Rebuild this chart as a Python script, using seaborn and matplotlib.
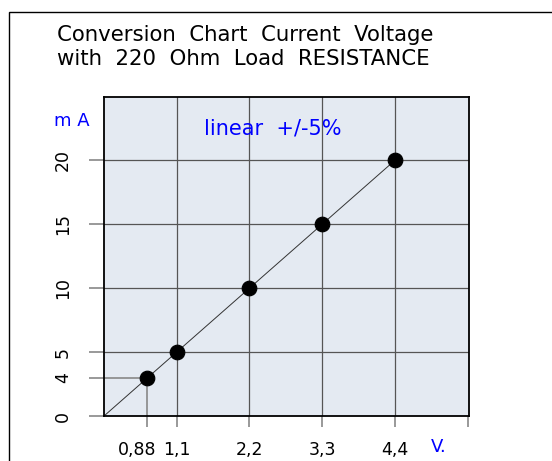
import matplotlib
matplotlib.use("Agg")
import matplotlib.pyplot as plt
import matplotlib.transforms as mtransforms
import seaborn as sns
import pandas as pd
import numpy as np
from matplotlib.patches import Rectangle

volts = [0.88, 1.1, 2.2, 3.3, 4.4]
milliamps = [4, 5, 10, 15, 20]
line_volts = [0, 4.4]
line_ma = [0, 20]
x_ticks = [0.88, 1.1, 2.2, 3.3, 4.4, 5.5]
x_labels = ["0,88", "1,1", "2,2", "3,3", "4,4", ""]
y_ticks = [0, 4, 5, 10, 15, 20]
y_labels = ["0", "4", "5", "10", "15", "20"]
full_vgrid = [1.1, 2.2, 3.3, 4.4]
full_hgrid = [5, 10, 15, 20]

# schematic (non-linear) scale near the origin, as in the original drawing
x_src = np.array([-10, 0, 0.88, 1.1, 100.0])
x_dst = np.array([-10, 0, 0.65, 1.1, 100.0])
y_src = np.array([-10, 0, 4, 5, 100.0])
y_dst = np.array([-10, 0, 2.97, 5, 100.0])

def fx(v):
    return np.interp(v, x_src, x_dst)
def ix(v):
    return np.interp(v, x_dst, x_src)
def fy(v):
    return np.interp(v, y_src, y_dst)
def iy(v):
    return np.interp(v, y_dst, y_src)

sns.set_theme(style="white")
plt.rcParams['font.family'] = ['DejaVu Sans']
plt.rcParams['text.color'] = 'black'

fig = plt.figure(figsize=(5.52, 4.61), dpi=100)
ax = fig.add_axes([104/552, 1-416/461, (469-104)/552, (416-97)/461])
ax.set_xscale('function', functions=(fx, ix))
ax.set_yscale('function', functions=(fy, iy))
ax.set_facecolor("#e4eaf2")

# figure frame
fig.patches.append(Rectangle((9/552, -0.1), 1.2, (461-12)/461 + 0.1, transform=fig.transFigure,
                             fill=False, edgecolor="black", linewidth=1.0, clip_on=False))

for v in full_vgrid:
    ax.axvline(v, color="#555555", linewidth=0.9, zorder=1)
for h in full_hgrid:
    ax.axhline(h, color="#555555", linewidth=0.9, zorder=1)
ax.plot([volts[0], volts[0]], [0, milliamps[0]], color="#888888", linewidth=1.2, zorder=1)
ax.plot([0, volts[0]], [milliamps[0], milliamps[0]], color="#888888", linewidth=1.2, zorder=1)

df_line = pd.DataFrame({"V": line_volts, "mA": line_ma})
sns.lineplot(data=df_line, x="V", y="mA", ax=ax, color="#333333", linewidth=0.7, zorder=2)
df = pd.DataFrame({"V": volts, "mA": milliamps})
sns.scatterplot(data=df, x="V", y="mA", ax=ax, color="black", s=110, edgecolor="black", zorder=3)

ax.set_xlim(0, 5.52)
ax.set_ylim(0, 24.95)
ax.set_xticks(x_ticks)
ax.set_xticklabels(x_labels, fontsize=12.5)
ax.set_yticks(y_ticks)
ax.set_yticklabels(y_labels, fontsize=12.5, rotation=90, va="center")
ax.minorticks_off()
ax.tick_params(axis="x", length=8, width=1.2, color="#888888", labelcolor="black", pad=10, bottom=True)
ax.tick_params(axis="y", length=11, width=1.2, color="#888888", labelcolor="black", pad=12, left=True)
first = ax.get_xticklabels()[0]
first.set_transform(first.get_transform() + mtransforms.ScaledTranslation(-10/100, 0, fig.dpi_scale_trans))
ax.set_xlabel("")
ax.set_ylabel("")
for s in ax.spines.values():
    s.set_color("black")
    s.set_linewidth(1.3)

fig.text(57/552, 1-35/461, "Conversion  Chart  Current  Voltage", fontsize=15.3, va="center", ha="left")
fig.text(57/552, 1-59/461, "with  220  Ohm  Load  RESISTANCE", fontsize=15.3, va="center", ha="left")
fig.text(54/552, 1-121/461, "m A", fontsize=13, color="blue", va="center", ha="left")
fig.text(204/552, 1-128/461, "linear  +/-5%", fontsize=15, color="blue", va="center", ha="left")
fig.text(431/552, 1-447/461, "V.", fontsize=13, color="blue", va="center", ha="left")

fig.savefig("out.png", dpi=100)
